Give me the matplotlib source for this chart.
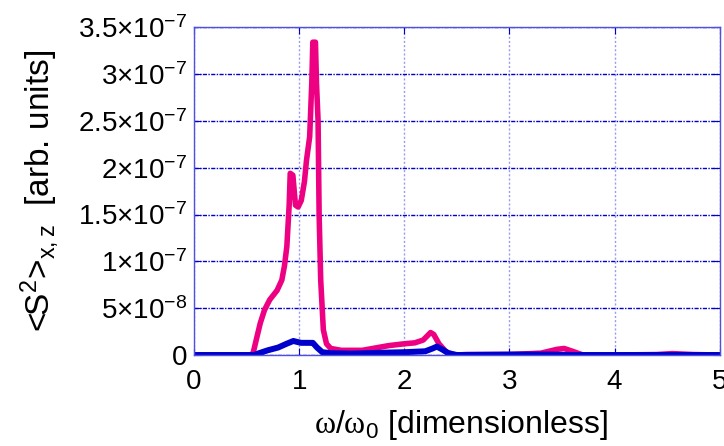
import numpy as np
import matplotlib
matplotlib.use("Agg")
import matplotlib.pyplot as plt

plt.rcParams['font.family'] = 'Liberation Sans'
plt.rcParams['mathtext.fontset'] = 'custom'
plt.rcParams['mathtext.rm'] = 'Liberation Sans'
plt.rcParams['mathtext.it'] = 'Liberation Sans'
plt.rcParams['mathtext.sf'] = 'Liberation Sans'
plt.rcParams['mathtext.bf'] = 'Liberation Serif'

# <S^2>_x,z spectra, values in units of 1e-7
pink_w = [0.0, 0.55, 0.565, 0.60, 0.63, 0.67, 0.72, 0.79, 0.835, 0.86, 0.883,
          0.905, 0.915, 0.94, 0.965, 0.99, 1.02, 1.05, 1.07, 1.10, 1.12, 1.13,
          1.155, 1.165, 1.18, 1.19, 1.205, 1.23, 1.26, 1.30, 1.40, 1.6, 1.75,
          1.85, 2.0, 2.1, 2.18, 2.25, 2.28, 2.33, 2.40, 2.48, 2.6, 3.0, 3.3,
          3.45, 3.52, 3.6, 3.7, 4.0, 4.4, 4.55, 4.75, 5.0]
pink_s = [0.0, 0.0, 0.035, 0.2, 0.34, 0.48, 0.59, 0.69, 0.8, 0.95, 1.16,
          1.6, 1.94, 1.92, 1.6, 1.58, 1.65, 1.85, 2.08, 2.33, 2.9, 3.34,
          3.34, 2.9, 2.5, 1.5, 0.8, 0.27, 0.12, 0.07, 0.05, 0.05, 0.08,
          0.10, 0.12, 0.13, 0.16, 0.24, 0.22, 0.12, 0.03, 0.0, 0.005, 0.005, 0.02,
          0.06, 0.07, 0.04, 0.0, 0.0, 0.005, 0.015, 0.005, 0.0]

blue_w = [0.0, 0.57, 0.62, 0.70, 0.80, 0.88, 0.945, 0.98, 1.02, 1.10, 1.13,
          1.17, 1.22, 1.3, 1.5, 1.8, 2.0, 2.2, 2.27, 2.31, 2.36, 2.42, 2.5,
          3.0, 3.4, 3.6, 5.0]
blue_s = [0.0, 0.0, 0.02, 0.05, 0.08, 0.12, 0.15, 0.14, 0.13, 0.13, 0.13,
          0.08, 0.03, 0.02, 0.015, 0.025, 0.03, 0.04, 0.07, 0.09, 0.06, 0.02, 0.0,
          0.005, 0.005, 0.0, 0.0]

yticks = [0, 0.5e-7, 1e-7, 1.5e-7, 2e-7, 2.5e-7, 3e-7, 3.5e-7]
ytick_labels = ['0', r'$5{\times}10^{-8}$', r'$1{\times}10^{-7}$', r'$1.5{\times}10^{-7}$',
                r'$2{\times}10^{-7}$', r'$2.5{\times}10^{-7}$', r'$3{\times}10^{-7}$',
                r'$3.5{\times}10^{-7}$']
xticks = [0, 1, 2, 3, 4, 5]

pink = '#EE0082'
blue = '#0000CC'

fig = plt.figure(figsize=(7.24, 4.46), dpi=100)
ax = fig.add_axes([0.268, 0.204, 0.726, 0.735])

ax.plot(pink_w, np.array(pink_s) * 1e-7, color=pink, lw=4.0, solid_joinstyle='round')
ax.plot(blue_w, np.array(blue_s) * 1e-7, color=blue, lw=4.3, solid_joinstyle='round')

ax.set_xlim(0, 5)
ax.set_ylim(0, 3.5e-7)
ax.set_xticks(xticks)
ax.set_xticklabels([str(t) for t in xticks])
ax.set_yticks(yticks)
ax.set_yticklabels(ytick_labels)

# grid: darker dash-dot horizontals, faint dotted verticals
ax.yaxis.grid(True, color='#0000C8', lw=1.0, ls=(0, (3, 1, 1, 1)))
ax.xaxis.grid(True, color='#9A9AF0', lw=1.0, ls=(0, (1.5, 1.5)))
ax.set_axisbelow(True)

for side in ['left', 'right', 'top', 'bottom']:
    ax.spines[side].set_color('#5050E0')
    ax.spines[side].set_linewidth(1.0)

ax.tick_params(direction='in', length=5, color='#0000CC', top=True, right=True,
               labelsize=20, labelcolor='black')
ax.tick_params(axis='x', pad=10)
ax.tick_params(axis='y', pad=5)

ax.set_xlabel(r'$\mathbf{\omega}/\mathbf{\omega}_{0}$ [dimensionless]', fontsize=23, va='center')
ax.xaxis.set_label_coords(0.507, -0.213)
ax.set_ylabel(r'<S$^{2}$>$_{x,z}$  [arb. units]', fontsize=24, va='center', ha='center')
ax.yaxis.set_label_coords(-0.293, 0.50)

fig.savefig('out.png', dpi=100)
